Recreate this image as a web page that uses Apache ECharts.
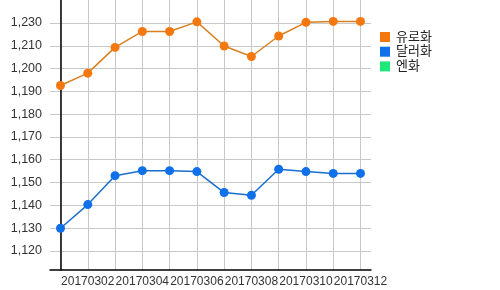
<!DOCTYPE html>
<html><head><meta charset="utf-8">
<script src="https://cdn.jsdelivr.net/npm/echarts@6/dist/echarts.min.js"></script>
<style>html,body{margin:0;padding:0;background:#fff}#c{width:500px;height:290px}</style>
</head><body><div id="c"></div>
<script>
var categories = ['20170301','20170302','20170303','20170304','20170305','20170306','20170307','20170308','20170309','20170310','20170311','20170312'];
var seriesNames = ['유로화','달러화','엔화'];
var euro = [1192.6,1198.0,1209.3,1216.3,1216.3,1220.5,1209.9,1205.3,1214.3,1220.3,1220.7,1220.7];
var dollar = [1129.9,1140.3,1153.0,1155.2,1155.2,1154.8,1145.6,1144.4,1155.8,1154.8,1154.0,1154.0];
var yen = [];
var yTickValues = [1120,1130,1140,1150,1160,1170,1180,1190,1200,1210,1220];
var yTickLabels = ['1,120','1,130','1,140','1,150','1,160','1,170','1,180','1,190','1,200','1,210','1,230'];
var xLabelIdx = [1,3,5,7,9,11];

function pairs(arr){ return arr.map(function(v,i){ return [i,v]; }); }
var idxs = categories.map(function(c,i){return i;});
var font = 'Liberation Sans, "Noto Sans CJK KR", sans-serif';

var chart = echarts.init(document.getElementById('c'));
chart.setOption({
  animation:false,
  color:['#f5780f','#0f70ea','#1ee87a'],
  grid:{left:50,right:129,top:0,bottom:20,containLabel:false},
  legend:{
    orient:'vertical', left:380, top:30, itemWidth:10, itemHeight:10, itemGap:0.7,
    icon:'rect', data:seriesNames, padding:0,
    textStyle:{fontSize:13, lineHeight:14, color:'#222', fontFamily:font, padding:[0,0,0,1]}
  },
  xAxis:{
    type:'value', min:-0.385, max:11.385,
    axisLine:{show:true, onZero:false, lineStyle:{color:'#000', width:1.5}},
    axisTick:{show:false, customValues:idxs},
    splitLine:{show:true, lineStyle:{color:'#c8c8c8', width:1}},
    axisLabel:{customValues:xLabelIdx, hideOverlap:false, showMinLabel:true, showMaxLabel:true,
      color:'#333', fontSize:12, fontFamily:font, margin:6,
      formatter:function(v){ return categories[Math.round(v)]; }}
  },
  yAxis:{
    type:'value', min:1111.6, max:1230.1,
    axisLine:{show:true, lineStyle:{color:'#000', width:1.5}},
    axisTick:{show:false, customValues:yTickValues},
    splitLine:{show:true, lineStyle:{color:'#c8c8c8', width:1}},
    axisLabel:{customValues:yTickValues, hideOverlap:false, color:'#333', fontSize:12.5, fontFamily:font, margin:8,
      formatter:function(v){ var i = yTickValues.indexOf(Math.round(v)); return i>=0 ? yTickLabels[i] : ''; }}
  },
  series:[
    {name:seriesNames[0], type:'line', data:pairs(euro), symbol:'circle', symbolSize:9,
     lineStyle:{width:1.5, color:'#d9801f'}, itemStyle:{color:'#f5780f'}},
    {name:seriesNames[1], type:'line', data:pairs(dollar), symbol:'circle', symbolSize:9,
     lineStyle:{width:1.5, color:'#1a6ecf'}, itemStyle:{color:'#0f70ea'}},
    {name:seriesNames[2], type:'line', data:pairs(yen), symbol:'circle', symbolSize:9,
     itemStyle:{color:'#1ee87a'}}
  ]
});
</script></body></html>
